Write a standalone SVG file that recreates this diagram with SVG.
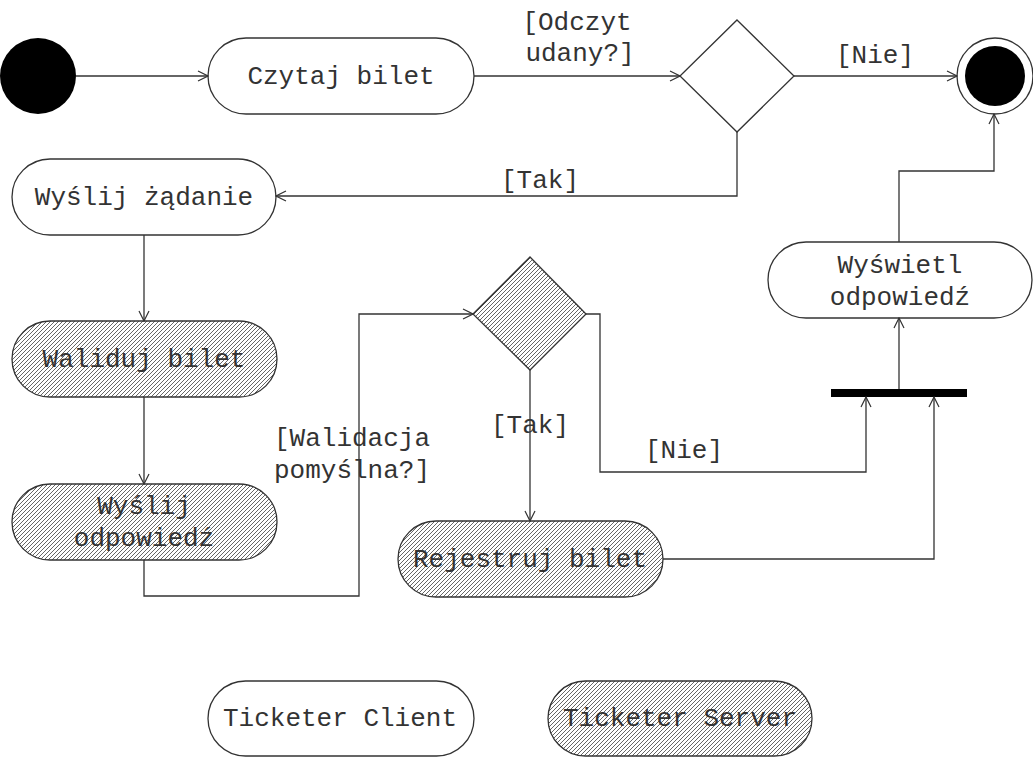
<svg xmlns="http://www.w3.org/2000/svg" width="1033" height="757" viewBox="0 0 1033 757">
<defs>
<pattern id="hatch" patternUnits="userSpaceOnUse" width="4" height="4">
<path d="M-1,1 l2,-2 M0,4 l4,-4 M3,5 l2,-2" stroke="#555" stroke-width="0.9"/>
</pattern>
<marker id="arr" viewBox="0 0 12 12" refX="11" refY="6" markerWidth="12" markerHeight="12" markerUnits="userSpaceOnUse" orient="auto">
<path d="M1,1 L11,6 L1,11" fill="none" stroke="#333" stroke-width="1.2"/>
</marker>
</defs>
<style>
.n{fill:#fff;stroke:#333;stroke-width:1.3}
.h{fill:url(#hatch);stroke:#333;stroke-width:1.3}
text{font-family:"Liberation Mono","DejaVu Sans Mono",monospace;font-size:26px;fill:#333;text-anchor:middle}
.c{fill:none;stroke:#333;stroke-width:1.3}
</style>
<g id="start"><circle cx="38" cy="76" r="38" fill="#000"/></g>
<g id="czytaj"><rect class="n" x="208" y="38" width="266" height="76" rx="38"/><text x="341" y="84">Czytaj bilet</text></g>
<g id="dec1"><polygon class="n" points="737,20 794,76 737,132 680,76"/></g>
<g id="end"><circle cx="995" cy="76" r="38" fill="#fff" stroke="#333" stroke-width="1.3"/><circle cx="995" cy="76" r="30" fill="#000"/></g>
<g id="wyslijZ"><rect class="n" x="12" y="159" width="264" height="76" rx="38"/><text x="144" y="205">Wyślij żądanie</text></g>
<g id="waliduj"><rect class="h" x="12" y="321" width="265" height="76" rx="38"/><text x="144" y="367">Waliduj bilet</text></g>
<g id="wyslijO"><rect class="h" x="12" y="484" width="265" height="76" rx="38"/><text x="144" y="514">Wyślij</text><text x="144" y="546">odpowiedź</text></g>
<g id="dec2"><polygon class="h" points="530,257 586,314 530,370 473,314"/></g>
<g id="rejestruj"><rect class="h" x="398" y="521" width="265" height="76" rx="38"/><text x="530" y="567">Rejestruj bilet</text></g>
<g id="fork"><rect x="831" y="389" width="136" height="8" fill="#000"/></g>
<g id="wyswietl"><rect class="n" x="768" y="242" width="264" height="76" rx="38"/><text x="900" y="273">Wyświetl</text><text x="900" y="305">odpowiedź</text></g>
<g id="legendClient"><rect class="n" x="208" y="681" width="266" height="75" rx="37.5"/><text x="340" y="726">Ticketer Client</text></g>
<g id="legendServer"><rect class="h" x="548" y="681" width="264" height="75" rx="37.5"/><text x="680" y="726">Ticketer Server</text></g>
<g id="connectors">
<path class="c" d="M76,76 H208" marker-end="url(#arr)"/>
<path class="c" d="M474,76 H680" marker-end="url(#arr)"/>
<path class="c" d="M794,76 H957" marker-end="url(#arr)"/>
<path class="c" d="M737,132 V196 H276" marker-end="url(#arr)"/>
<path class="c" d="M144,235 V321" marker-end="url(#arr)"/>
<path class="c" d="M144,397 V484" marker-end="url(#arr)"/>
<path class="c" d="M144,560 V596 H359 V314 H473" marker-end="url(#arr)"/>
<path class="c" d="M530,370 V521" marker-end="url(#arr)"/>
<path class="c" d="M586,314 H600 V472 H866 V397" marker-end="url(#arr)"/>
<path class="c" d="M663,559 H934 V397" marker-end="url(#arr)"/>
<path class="c" d="M899,389 V318" marker-end="url(#arr)"/>
<path class="c" d="M899,242 V171 H994 V114" marker-end="url(#arr)"/>
<text x="577" y="30">[Odczyt</text>
<text x="580" y="61">udany?]</text>
<text x="875" y="63">[Nie]</text>
<text x="540" y="188">[Tak]</text>
<text x="352" y="446">[Walidacja</text>
<text x="352" y="478">pomyślna?]</text>
<text x="530" y="433">[Tak]</text>
<text x="684" y="458">[Nie]</text>
</g>
</svg>
